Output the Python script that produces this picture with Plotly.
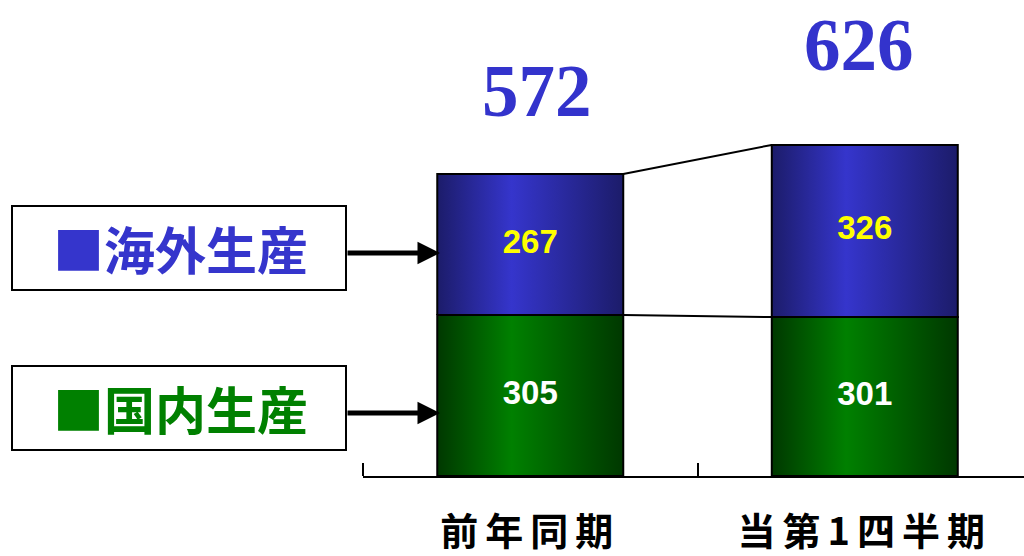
import plotly.graph_objects as go

# ---- data ----
categories = ["前年同期", "当第1四半期"]
series_names = ["国内生産", "海外生産"]
domestic = [305, 301]
overseas = [267, 326]
totals = [572, 626]  # totals as printed above the bars

# ---- style ----
W, H = 1024, 556
ML, MR, MT, MB = 363, 0, 0, 80
bar_w = 0.556
y_max = 901.5
x_range = [-0.5, 1.476]
light = {"国内生産": "#008000", "海外生産": "#3535CC"}
dark = {"国内生産": "#003800", "海外生産": "#1C1C6A"}
label_color = {"国内生産": "#008000", "海外生産": "#3535CC"}
inner_text_color = {"国内生産": "white", "海外生産": "#FFFF00"}

fig = go.Figure()

values = {"国内生産": domestic, "海外生産": overseas}
for i, cat in enumerate(categories):
    base = 0
    for name in series_names:
        v = values[name][i]
        x0, x1 = i - bar_w / 2, i + bar_w / 2
        fig.add_trace(go.Scatter(
            x=[x0, x1, x1, x0, x0],
            y=[base, base, base + v, base + v, base],
            mode="lines", fill="toself",
            fillgradient=dict(type="horizontal",
                              colorscale=[[0, dark[name]], [0.4, light[name]], [1, dark[name]]]),
            line=dict(color="black", width=2),
            hoverinfo="skip", showlegend=False,
        ))
        fig.add_trace(go.Scatter(
            x=[i], y=[base + v / 2], mode="text", text=[str(v)],
            textfont=dict(family="Liberation Sans", size=33, color=inner_text_color[name], weight="bold"),
            hoverinfo="skip", showlegend=False,
        ))
        base += v

# connecting lines between bar tops / segment boundaries
fig.add_shape(type="line", xref="x", yref="y",
              x0=bar_w / 2, y0=domestic[0] + overseas[0],
              x1=1 - bar_w / 2, y1=domestic[1] + overseas[1],
              line=dict(color="black", width=2))
fig.add_shape(type="line", xref="x", yref="y",
              x0=bar_w / 2, y0=domestic[0], x1=1 - bar_w / 2, y1=domestic[1],
              line=dict(color="black", width=2))

# totals
total_shift = [(7, 40), (-6, 57)]
for i, t in enumerate(totals):
    fig.add_annotation(x=i, y=domestic[i] + overseas[i], xref="x", yref="y", text=str(t),
                       showarrow=False, yanchor="bottom",
                       xshift=total_shift[i][0], yshift=total_shift[i][1],
                       font=dict(family="Liberation Serif", size=73, color="#3333CC", weight="bold"))

# legend boxes with arrows (positions given in page pixels)
pw = W - ML - MR
ph = H - MT - MB
def px_x(px):
    return (px - ML) / pw
def px_y(py):
    return (H - MB - py) / ph

boxes = {"海外生産": (206, 290), "国内生産": (366, 450)}
for name in series_names:
    top, bot = boxes[name]
    fig.add_shape(type="rect", xref="paper", yref="paper",
                  x0=px_x(12), x1=px_x(346), y0=px_y(bot), y1=px_y(top),
                  line=dict(color="black", width=2), fillcolor="white")
    fig.add_annotation(xref="paper", yref="paper", x=px_x(181), y=px_y((top + bot) / 2),
                       text="■" + name, showarrow=False, xanchor="center", yanchor="middle",
                       font=dict(family="Noto Sans CJK JP", size=51, color=label_color[name], weight="bold"))
    fig.add_annotation(xref="paper", yref="paper", x=px_x(440), y=px_y((top + bot) / 2 + 5),
                       ax=-94, ay=0, text="", showarrow=True, arrowhead=2, arrowsize=0.9,
                       arrowwidth=5, arrowcolor="black")

tick_text = ['<span style="letter-spacing:7px">%s</span>' % c for c in categories]

fig.update_layout(
    width=W, height=H, margin=dict(l=ML, r=MR, t=MT, b=MB, autoexpand=False),
    paper_bgcolor="white", plot_bgcolor="white",
    xaxis=dict(range=x_range, tickmode="array", tickvals=list(range(len(categories))),
               ticktext=tick_text, ticks="", showgrid=False, zeroline=False,
               showline=True, linecolor="black", linewidth=2, automargin=False,
               ticklabelstandoff=21,
               tickfont=dict(family="Noto Sans CJK JP", size=38, color="black", weight="bold"),
               minor=dict(tickmode="array", tickvals=[-0.5, 0.5, 1.5], ticks="inside",
                          ticklen=13, tickwidth=1.5, tickcolor="black", showgrid=False)),
    yaxis=dict(range=[0, y_max], visible=False),
    showlegend=False,
)

fig.write_html("out.html", config={"displayModeBar": False},
               post_script="document.body.style.margin='0px';")
